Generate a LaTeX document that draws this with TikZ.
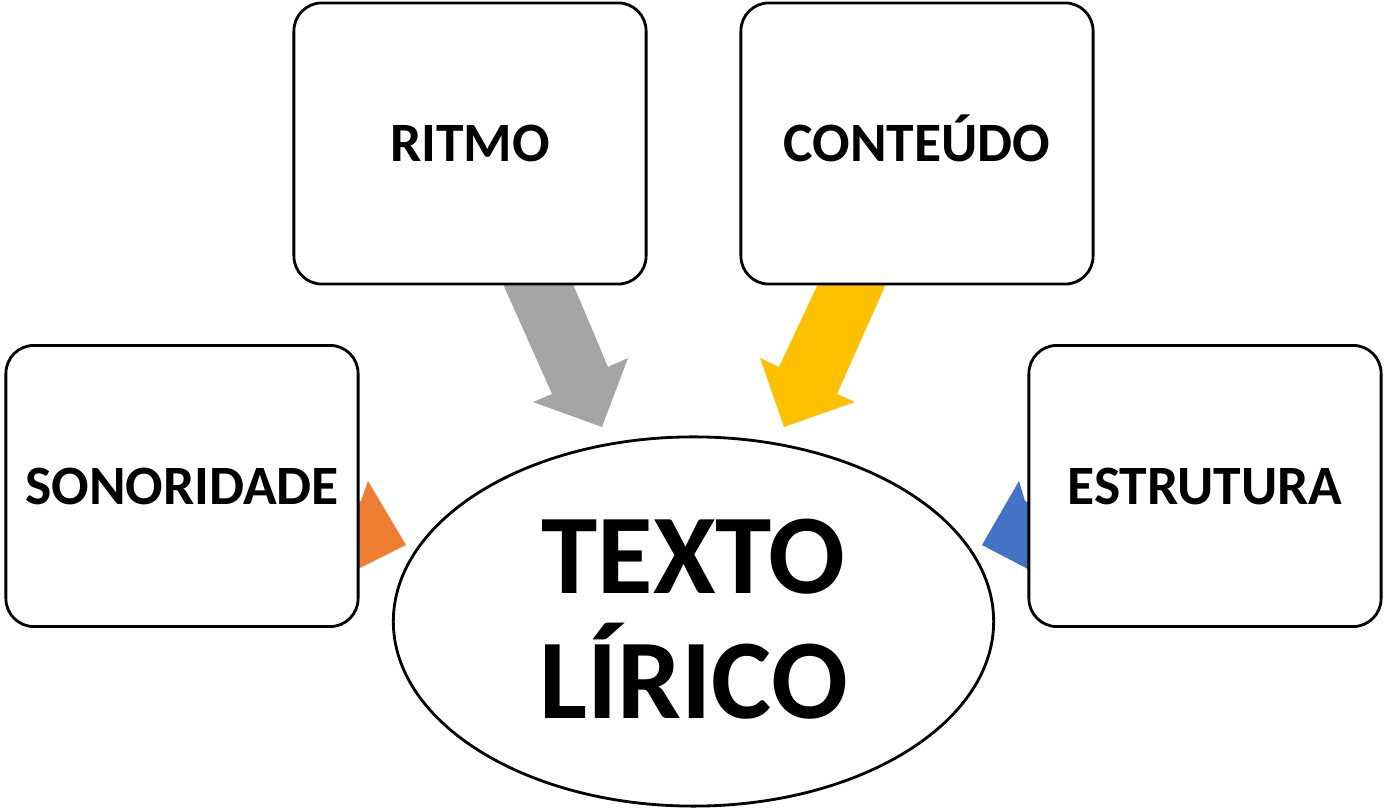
\documentclass[tikz,border=0pt]{standalone}
\usepackage{fontspec}
\setmainfont{Carlito}
\usetikzlibrary{shapes.geometric}
\definecolor{grayarrow}{HTML}{A5A5A5}
\definecolor{yellowarrow}{HTML}{FFC000}
\definecolor{orangearrow}{HTML}{ED7D31}
\definecolor{bluearrow}{HTML}{4472C4}
\tikzset{
  topicbox/.style={draw=black, line width=0.8pt, fill=white, rounded corners=0.28cm,
    minimum width=3.52cm, minimum height=2.81cm, inner sep=0pt,
    text height=0.36cm, text depth=0cm,
    font=\fontsize{15.8}{19}\selectfont\bfseries},
  centerell/.style={ellipse, draw=black, line width=0.8pt, fill=white,
    minimum width=6cm, minimum height=3.69cm, inner sep=0pt},
  bigtext/.style={font=\fontsize{32.3}{35}\selectfont\bfseries, inner sep=0pt,
    text height=0.73cm, text depth=0cm}
}
\begin{document}
\begin{tikzpicture}[x=0.01cm,y=-0.01cm]
\useasboundingbox (0,0) rectangle (1384,810);
% block arrows
\fill[grayarrow] (503,284) -- (573,284) -- (608,367) -- (628,358) -- (602,427) -- (533,402) -- (552,394) -- cycle;
\fill[yellowarrow] (818,284) -- (886,284) -- (837,394) -- (855,402) -- (784,427) -- (760,358) -- (779,367) -- cycle;
\fill[orangearrow] (340,510) -- (361,501) -- (368,481) -- (406,545) -- (340,578) -- cycle;
\fill[bluearrow] (1045,510) -- (1025,501) -- (1019,481) -- (982,545) -- (1045,578) -- cycle;
% boxes
\node[topicbox] (ritmo) at (470,143.5) {RITMO};
\node[topicbox] (conteudo) at (917,143.5) {CONTEÚDO};
\node[topicbox] (sonoridade) at (182,486) {SONORIDADE};
\node[topicbox] (estrutura) at (1205,486) {ESTRUTURA};
\node[centerell] (texto) at (693.5,621.5) {};
\node[bigtext] (l1) at (693.5,556.5) {TEXTO};
\node[bigtext] (l2) at (693.5,681.5) {LÍRICO};
\end{tikzpicture}
\end{document}
